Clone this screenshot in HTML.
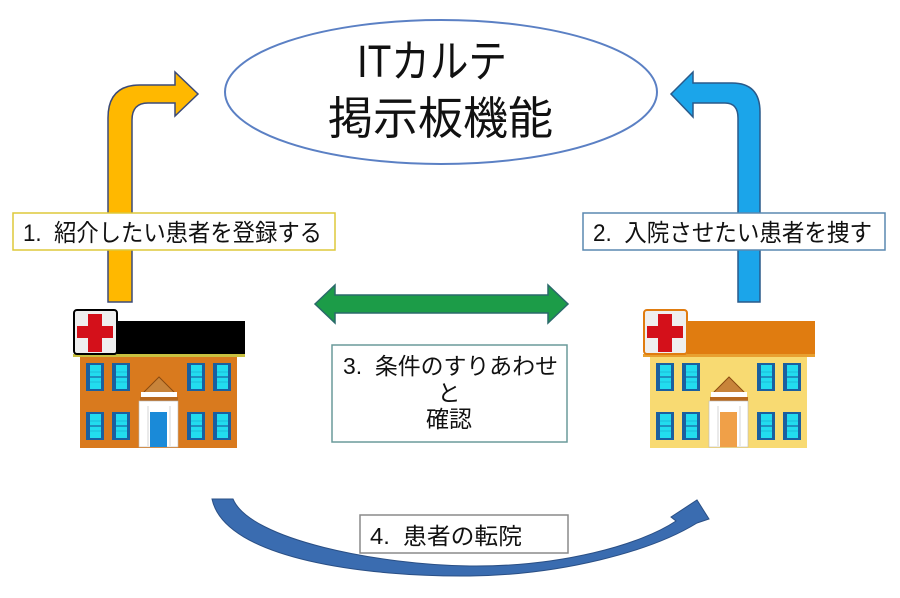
<!DOCTYPE html>
<html><head><meta charset="utf-8"><style>
html,body{margin:0;padding:0;background:#fff;}
svg{display:block;}
text{font-family:"Liberation Sans","Noto Sans CJK JP",sans-serif;fill:#111;white-space:pre;}
</style></head><body>
<svg width="900" height="598" viewBox="0 0 900 598" xmlns="http://www.w3.org/2000/svg" xml:space="preserve">
<defs>
<g id="win">
  <rect x="0" y="0" width="18" height="28" fill="#1a5fa0"/>
  <rect x="4" y="2" width="11" height="24" fill="#22dcef"/>
  <line x1="4" y1="14" x2="15" y2="14" stroke="#1a5fa0" stroke-width="1.2"/>
  <line x1="4" y1="9" x2="15" y2="9" stroke="#1aa8c8" stroke-width="0.6"/>
  <line x1="4" y1="19" x2="15" y2="19" stroke="#1aa8c8" stroke-width="0.6"/>
</g>
<g id="wins">
  <use href="#win" x="86" y="363"/>
  <use href="#win" x="112" y="363"/>
  <use href="#win" x="187" y="363"/>
  <use href="#win" x="213" y="363"/>
  <use href="#win" x="86" y="412"/>
  <use href="#win" x="112" y="412"/>
  <use href="#win" x="187" y="412"/>
  <use href="#win" x="213" y="412"/>
</g>
</defs>

<ellipse cx="441" cy="92" rx="216" ry="72" fill="#fff" stroke="#5b80c4" stroke-width="2"/>
<text x="357" y="77" font-size="45" textLength="150" lengthAdjust="spacingAndGlyphs">ITカルテ</text>
<text x="328" y="134" font-size="45" textLength="225" lengthAdjust="spacingAndGlyphs">掲示板機能</text>

<path d="M108,302 L108,118 Q108,85 140,85 L175,85 L175,72 L198,94 L175,116 L175,103 L148,103 Q132,103 132,120 L132,302 Z" fill="#ffb800" stroke="#3b4a78" stroke-width="1.5"/>

<path d="M738,302 L738,118 Q738,103 725,103 L693,103 L693,117 L671,94 L693,72 L693,83 L732,83 Q760,83 760,112 L760,302 Z" fill="#1ba5ea" stroke="#2a5a8a" stroke-width="1.5"/>

<rect x="13" y="213" width="322" height="37" fill="#fff" stroke="#ddc83a" stroke-width="1.5"/>
<text x="23" y="241" font-size="24" textLength="299" lengthAdjust="spacingAndGlyphs">1.  紹介したい患者を登録する</text>

<rect x="583" y="213" width="302" height="37" fill="#fff" stroke="#5a88b0" stroke-width="1.5"/>
<text x="593" y="241" font-size="24" textLength="279" lengthAdjust="spacingAndGlyphs">2.  入院させたい患者を捜す</text>

<path d="M315,304 L335,285 L335,295 L548,295 L548,285 L568,304 L548,323 L548,313 L335,313 L335,323 Z" fill="#1c9c48" stroke="#2a6a6a" stroke-width="1.5"/>

<rect x="332" y="345" width="235" height="97" fill="#fff" stroke="#6a9a9a" stroke-width="1.5"/>
<text x="343" y="374" font-size="23" textLength="215" lengthAdjust="spacingAndGlyphs">3.  条件のすりあわせ</text>
<text x="449" y="401" font-size="23" text-anchor="middle">と</text>
<text x="449" y="427" font-size="23" text-anchor="middle">確認</text>

<rect x="80" y="357" width="157" height="91" fill="#d97a1e"/>
<rect x="117" y="321" width="128" height="34" fill="#000"/>
<rect x="73" y="354" width="172" height="3" fill="#c8c040"/>
<rect x="74" y="310" width="43" height="44" rx="3" fill="#efefef" stroke="#000" stroke-width="2"/>
<rect x="88" y="314" width="14" height="38" fill="#d4101a"/>
<rect x="77" y="326" width="36" height="12" fill="#d4101a"/>
<use href="#wins"/>
<polygon points="159,377 142,394 176,394" fill="#c8843a" stroke="#8a4a10" stroke-width="1"/>
<rect x="141" y="392" width="36" height="5" fill="#fff"/>
<rect x="140" y="397" width="38" height="4" fill="#b86a20"/>
<rect x="139" y="401" width="39" height="46" fill="#fff" stroke="#bbb" stroke-width="0.6"/>
<line x1="148" y1="406" x2="148" y2="446" stroke="#bbb" stroke-width="0.6"/>
<line x1="170" y1="406" x2="170" y2="446" stroke="#bbb" stroke-width="0.6"/>
<rect x="150" y="412" width="17" height="35" fill="#1a8ad8"/>

<g transform="translate(570,0)">
<rect x="80" y="357" width="157" height="91" fill="#f8da72"/>
<rect x="117" y="321" width="128" height="35" fill="#e07c10"/>
<rect x="73" y="354" width="172" height="3" fill="#e8a030"/>
<rect x="74" y="310" width="43" height="44" rx="3" fill="#efefef" stroke="#e07c10" stroke-width="2"/>
<rect x="88" y="314" width="14" height="38" fill="#d4101a"/>
<rect x="77" y="326" width="36" height="12" fill="#d4101a"/>
<use href="#wins"/>
<polygon points="159,377 142,394 176,394" fill="#c8843a" stroke="#8a4a10" stroke-width="1"/>
<rect x="141" y="392" width="36" height="5" fill="#fff"/>
<rect x="140" y="397" width="38" height="4" fill="#b86a20"/>
<rect x="139" y="401" width="39" height="46" fill="#fff" stroke="#bbb" stroke-width="0.6"/>
<line x1="148" y1="406" x2="148" y2="446" stroke="#bbb" stroke-width="0.6"/>
<line x1="170" y1="406" x2="170" y2="446" stroke="#bbb" stroke-width="0.6"/>
<rect x="150" y="412" width="17" height="35" fill="#f0a048"/>
</g>

<path d="M212,499 L233,499 C250,540 380,565 470,566 C560,567 640,545 676,521 L671,517 L697,500 L709,519 L697,523 C650,552 560,575 470,576 C370,577 225,560 212,499 Z" fill="#3a6cb0" stroke="#2a4f85" stroke-width="1"/>

<rect x="360" y="515" width="208" height="38" fill="#fff" stroke="#8a8a8a" stroke-width="1.5"/>
<text x="370" y="544" font-size="23" textLength="152" lengthAdjust="spacingAndGlyphs">4.  患者の転院</text>
</svg>
</body></html>
